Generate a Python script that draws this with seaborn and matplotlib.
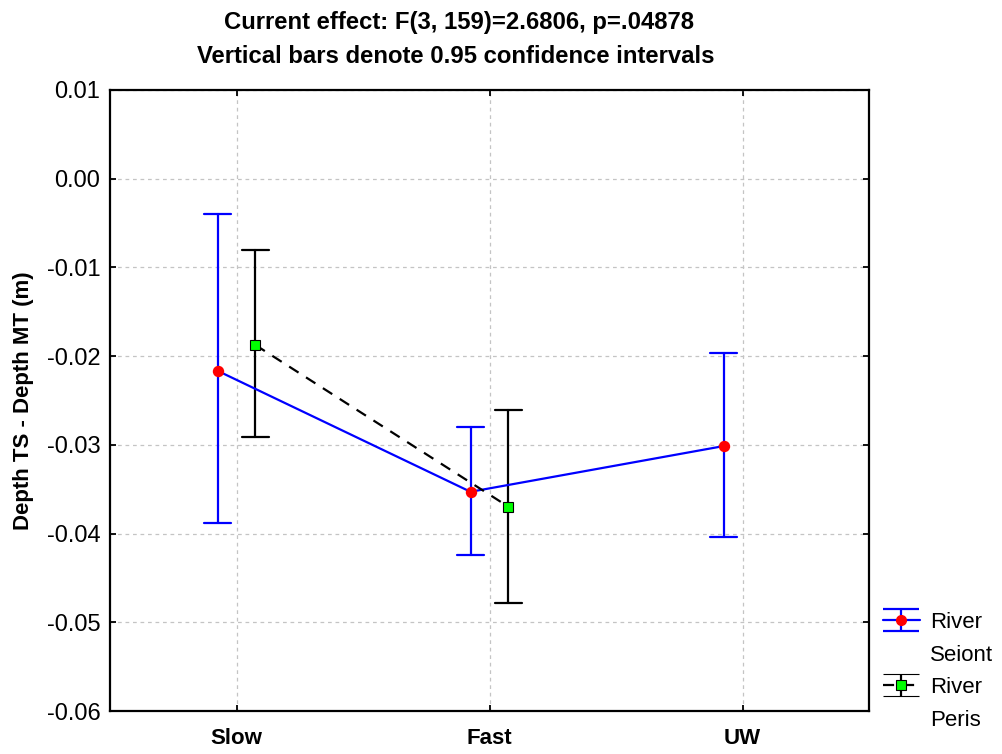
import numpy as np
import pandas as pd
import matplotlib
matplotlib.use("Agg")
import matplotlib.pyplot as plt
from matplotlib.lines import Line2D
import seaborn as sns

# ---- data ----
categories = ["Slow", "Fast", "UW"]
rivers = ["River\nSeiont", "River\nPeris"]
seiont_mean = [-0.02165, -0.03529, -0.03014]
seiont_low = [-0.03885, -0.04242, -0.04036]
seiont_high = [-0.00401, -0.02803, -0.01968]
peris_mean = [-0.01875, -0.03698]
peris_low = [-0.02912, -0.04784]
peris_high = [-0.00807, -0.02608]
title_lines = ["Current effect: F(3, 159)=2.6806, p=.04878",
               "Vertical bars denote 0.95 confidence intervals"]
ylabel = "Depth TS - Depth MT (m)"
yticks = [0.01, 0.00, -0.01, -0.02, -0.03, -0.04, -0.05, -0.06]

# long-form table: each group holds (low, mean, high); median -> mean, min/max -> CI
rows = []
for river, means, lows, highs in [
    (rivers[0], seiont_mean, seiont_low, seiont_high),
    (rivers[1], peris_mean, peris_low, peris_high),
]:
    for cat, m, lo, hi in zip(categories, means, lows, highs):
        for v in (lo, m, hi):
            rows.append({"speed": cat, "river": river, "depth": v})
df = pd.DataFrame(rows)

sns.set_theme(style="whitegrid")
plt.rcParams["font.family"] = ["Liberation Sans", "DejaVu Sans"]
plt.rcParams["axes.unicode_minus"] = False
for key in ["text.color", "axes.labelcolor", "xtick.color", "ytick.color"]:
    plt.rcParams[key] = "black"

fig = plt.figure(figsize=(10.02, 7.54), dpi=100)
ax = fig.add_axes([110 / 1002, 1 - 711 / 754, (869 - 110) / 1002, (711 - 90) / 754])

blue, black, red, green = "#0000ff", "#000000", "#ff0000", "#00ff00"

sns.pointplot(
    data=df, x="speed", y="depth", hue="river",
    order=categories, hue_order=rivers,
    estimator=np.median, errorbar=lambda v: (np.min(v), np.max(v)),
    dodge=0.15, markers=["o", "s"], linestyles=["-", "--"],
    palette=[blue, black], capsize=0.107,
    err_kws={"linewidth": 1.6}, linewidth=1.6, markersize=7,
    legend=False, ax=ax,
)

for ln in ax.lines:
    mk = ln.get_marker()
    if mk == "o":
        ln.set_markerfacecolor(red)
        ln.set_markeredgecolor(red)
        ln.set_zorder(4)
    elif mk == "s":
        ln.set_markerfacecolor(green)
        ln.set_markeredgecolor(black)
        ln.set_markeredgewidth(0.8)
        ln.set_dashes([5, 4])
        ln.set_zorder(4)
    else:
        ln.set_zorder(3)

ax.set_ylim(-0.06, 0.01)
ax.set_yticks(yticks)
ax.set_yticklabels([f"{t:.2f}" for t in yticks])
ax.set_xlim(-0.5, 2.5)
ax.set_xlabel("")
ax.set_ylabel(ylabel, fontsize=16, fontweight="bold", labelpad=9, color="black")

ax.grid(True, axis="both", color="#c4c4c4", linestyle=(0, (3, 3)), linewidth=0.9)
ax.set_axisbelow(True)
for sp in ax.spines.values():
    sp.set_color("black")
    sp.set_linewidth(1.6)
    sp.set_visible(True)

ax.tick_params(axis="y", which="major", direction="in", length=4, width=1.3,
               color="black", labelcolor="black", labelsize=17, pad=7,
               left=True, right=True)
ax.tick_params(axis="x", which="major", direction="in", length=4, width=1.3,
               color="black", labelcolor="black", labelsize=16, pad=12,
               bottom=True, top=True)
for lbl in ax.get_xticklabels():
    lbl.set_fontweight("bold")

# title (two lines)
fig.text(459 / 1002, 1 - 29 / 754, title_lines[0], ha="center", va="baseline",
         fontsize=17.2, fontweight="bold", color="black")
fig.text(456 / 1002, 1 - 63 / 754, title_lines[1], ha="center", va="baseline",
         fontsize=17.2, fontweight="bold", color="black")

# legend with errorbar-style handles
h1 = ax.errorbar([np.nan], [np.nan], yerr=[[np.nan], [np.nan]], color=blue,
                 marker="o", markerfacecolor=red, markeredgecolor=red,
                 markersize=7, linewidth=1.6, capsize=13, capthick=1.6,
                 elinewidth=1.6)
h2 = ax.errorbar([np.nan], [np.nan], yerr=[[np.nan], [np.nan]], color=black,
                 marker="s", markerfacecolor=green, markeredgecolor=black,
                 markeredgewidth=0.8, markersize=7, linewidth=1.6,
                 linestyle=(0, (5, 4)), capsize=13, capthick=1.6,
                 elinewidth=1.6)
blank = Line2D([], [], linestyle="none")
names = [r.split("\n") for r in rivers]
leg = fig.legend(
    [h1, blank, h2, blank],
    [names[0][0], names[0][1], names[1][0], names[1][1]],
    loc="upper left", bbox_to_anchor=(883 / 1002, 1 - 612 / 754),
    frameon=False, fontsize=16, borderpad=0, borderaxespad=0,
    handlelength=1.65, handletextpad=0.45, labelspacing=0.52,
)
for t in leg.get_texts():
    t.set_color("black")

fig.savefig("out.png", dpi=100)
